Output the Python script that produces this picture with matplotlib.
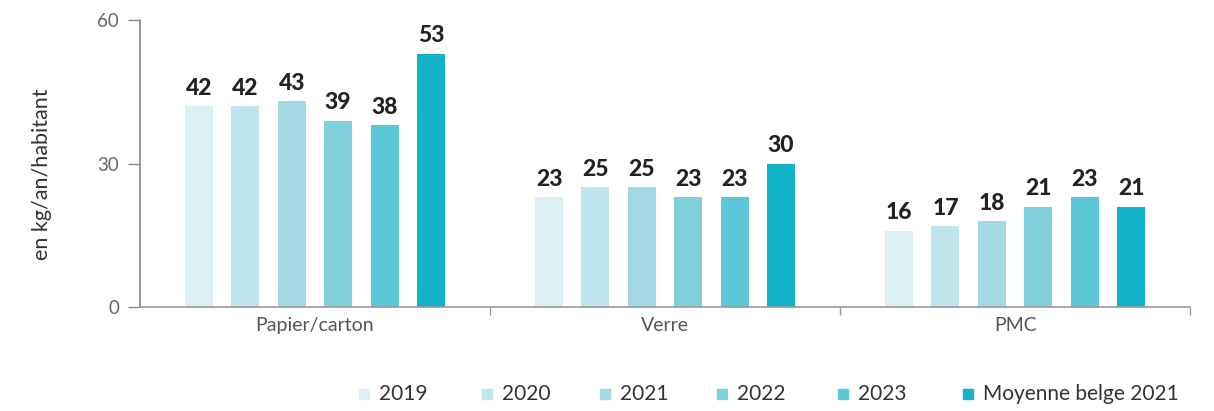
import matplotlib
matplotlib.use("Agg")
import matplotlib.pyplot as plt
import numpy as np

plt.rcParams['font.family'] = ['Lato', 'DejaVu Sans']

categories = ["Papier/carton", "Verre", "PMC"]
series_names = ["2019", "2020", "2021", "2022", "2023", "Moyenne belge 2021"]
values = {
    "2019": [42, 23, 16],
    "2020": [42, 25, 17],
    "2021": [43, 25, 18],
    "2022": [39, 23, 21],
    "2023": [38, 23, 23],
    "Moyenne belge 2021": [53, 30, 21],
}
colors = ["#dcf0f4", "#c1e5ec", "#a3d9e3", "#80d0db", "#5cc7d6", "#12b2c9"]
yticks = [0, 30, 60]

W, H = 1214, 411
fig = plt.figure(figsize=(W / 100, H / 100), dpi=100)
ax = fig.add_axes([0.1153, 0.253, 0.865, 0.698])

x = np.arange(len(categories))
step = 0.1325
width = 0.08
n = len(series_names)
for i, (name, col) in enumerate(zip(series_names, colors)):
    off = (i - (n - 1) / 2) * step
    vals = values[name]
    ax.bar(x + off, vals, width=width, color=col, zorder=2)
    for xi, v in zip(x + off, vals):
        ax.text(xi, v + 1.5, str(v), ha='center', va='bottom', fontsize=16.5,
                fontweight='black', color='#222222')

ax.set_xlim(-0.5, 2.5)
ax.set_ylim(0, 60)
ax.set_yticks(yticks)
ax.set_yticklabels([str(t) for t in yticks], fontsize=13.5, color='#666666')
ax.tick_params(axis='y', length=9, color='#888888', width=1, pad=6)
ax.set_xticks(x)
ax.set_xticklabels(categories, fontsize=14, color='#555555')
ax.tick_params(axis='x', which='major', length=0, pad=7)
ax.set_xticks([0.5, 1.5, 2.5], minor=True)
ax.tick_params(axis='x', which='minor', length=6, color='#999999', width=1, direction='out')

for s in ['top', 'right']:
    ax.spines[s].set_visible(False)
ax.spines['left'].set_color('#888888')
ax.spines['bottom'].set_color('#999999')
ax.spines['left'].set_linewidth(1.2)
ax.spines['bottom'].set_linewidth(1.2)

fig.text(0.035, 0.575, "en kg/an/habitant", rotation=90, ha='center', va='center',
         fontsize=15.5, color='#333333')

# manual legend
legend_x_px = [364, 487, 605, 722, 843, 968]
ly = 1 - 394 / H
for px, name, col in zip(legend_x_px, series_names, colors):
    fig.patches.append(plt.Rectangle(((px - 5) / W, ly - 5 / H), 10 / W, 10 / H,
                                     transform=fig.transFigure, color=col, figure=fig))
    fig.text((px + 15) / W, ly, name, ha='left', va='center', fontsize=15, color='#333333')

fig.savefig("out.png", dpi=100)
